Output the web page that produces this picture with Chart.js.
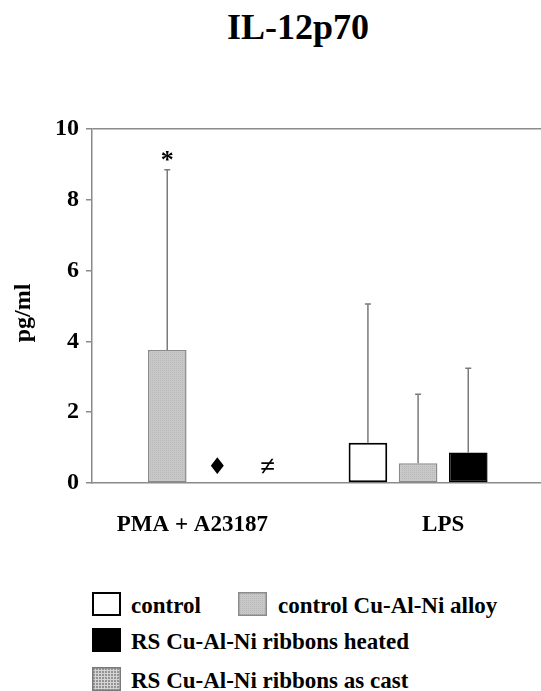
<!DOCTYPE html>
<html>
<head>
<meta charset="utf-8">
<script src="https://cdn.jsdelivr.net/npm/chart.js@4.4.1/dist/chart.umd.min.js"></script>
<style>
  html, body { margin: 0; padding: 0; background: #fff; }
  body { width: 541px; height: 691px; position: relative; overflow: hidden;
         font-family: "Liberation Serif", "Times New Roman", serif; font-weight: bold; color: #000; }
  #title { position: absolute; left: 0; top: 9px; width: 596px; text-align: center; font-size: 36px; line-height: 36px; }
  #wrap { position: absolute; left: 0; top: 0; width: 541px; height: 543px; }
  .lg { position: absolute; font-size: 23px; line-height: 24px; white-space: nowrap; }
  .lg canvas { position: absolute; left: 0; top: 0; }
  .lg span { position: absolute; top: 2px; }
</style>
</head>
<body>
<div id="title">IL-12p70</div>
<div id="wrap"><canvas id="chart"></canvas></div>
<div id="legend"></div>
<script>
var categories = ['PMA + A23187', 'LPS'];
var seriesNames = ['control', 'control Cu-Al-Ni alloy', 'RS Cu-Al-Ni ribbons heated', 'RS Cu-Al-Ni ribbons as cast'];

var control = [0, 1.14];
var alloy   = [3.76, 0.56];
var heated  = [0, 0.86];
var asCast  = [0, 0];

// standard deviations (upper error bar only)
var controlSD = [0, 3.92];
var alloySD   = [5.09, 1.95];
var heatedSD  = [0, 2.38];
var asCastSD  = [0, 0];

// significance marks: series index, category index, symbol, y value (null = above error bar)
var marks = [
    [1, 0, '*', null],
    [2, 0, '\u2666', 0.42],
    [3, 0, '\u2260', 0.42]
];

var yTicks = [0, 2, 4, 6, 8, 10];

var values = [control, alloy, heated, asCast];
var sds = [controlSD, alloySD, heatedSD, asCastSD];

function makeTile(size, draw) {
    var c = document.createElement('canvas');
    c.width = size; c.height = size;
    draw(c.getContext('2d'));
    return c;
}
var alloyTile = makeTile(2, function (g) {
    g.fillStyle = '#c8c8c8'; g.fillRect(0, 0, 2, 2);
    g.fillStyle = '#b8b8b8'; g.fillRect(0, 0, 1, 1);
});
var castTile = makeTile(3, function (g) {
    g.fillStyle = '#949494'; g.fillRect(0, 0, 3, 3);
    g.fillStyle = '#d4d4d4'; g.fillRect(0, 0, 3, 1); g.fillRect(0, 0, 1, 3);
});

function fillsFor(ctx) {
    return ['#ffffff', ctx.createPattern(alloyTile, 'repeat'), '#000000', ctx.createPattern(castTile, 'repeat')];
}
var borderColors = ['#000000', '#8a8a8a', '#000000', '#7a7a7a'];
var borderWidths = [2, 1.5, 1.5, 1.5];

var canvas = document.getElementById('chart');
var fills = fillsFor(canvas.getContext('2d'));

var serifBold = function (size) { return { family: 'Liberation Serif', size: size, weight: 'bold' }; };

var extras = {
    id: 'extras',
    afterDatasetsDraw: function (chart) {
        var ctx = chart.ctx, y = chart.scales.y;
        ctx.save();
        // error bars
        ctx.strokeStyle = '#7a7a7a';
        ctx.lineWidth = 1.5;
        sds.forEach(function (sd, i) {
            var meta = chart.getDatasetMeta(i);
            sd.forEach(function (e, j) {
                if (!e) return;
                var bar = meta.data[j];
                var top = y.getPixelForValue(values[i][j] + e);
                ctx.beginPath();
                ctx.moveTo(bar.x, bar.y); ctx.lineTo(bar.x, top);
                ctx.moveTo(bar.x - 3, top); ctx.lineTo(bar.x + 3, top);
                ctx.stroke();
            });
        });
        // marks
        ctx.fillStyle = '#000';
        ctx.textAlign = 'center';
        ctx.textBaseline = 'middle';
        marks.forEach(function (m) {
            var bar = chart.getDatasetMeta(m[0]).data[m[1]];
            var py;
            if (m[3] === null) {
                py = y.getPixelForValue(values[m[0]][m[1]] + sds[m[0]][m[1]]) - 8;
                ctx.font = 'bold 26px "Liberation Serif"';
            } else {
                py = y.getPixelForValue(m[3]);
                ctx.font = m[2] === '\u2666' ? '23px "DejaVu Sans"' : 'bold 27px "Liberation Serif"';
            }
            ctx.fillText(m[2], bar.x, py);
        });
        // y axis title
        ctx.translate(24, 313);
        ctx.rotate(-Math.PI / 2);
        ctx.font = 'bold 24px "Liberation Serif"';
        ctx.fillText('pg/ml', 0, 0);
        ctx.restore();
    }
};

new Chart(canvas, {
    type: 'bar',
    data: {
        datasets: values.map(function (v, i) {
            return {
                label: seriesNames[i],
                data: v.map(function (val, j) { return { x: j + 1, y: val }; }),
                backgroundColor: fills[i],
                borderColor: borderColors[i],
                borderWidth: borderWidths[i],
                borderSkipped: false,
                categoryPercentage: 0.8,
                barPercentage: 0.77
            };
        })
    },
    options: {
        responsive: true,
        maintainAspectRatio: false,
        animation: false,
        layout: { padding: { top: 129, left: 0, right: 0, bottom: 0 } },
        plugins: { legend: { display: false }, tooltip: { enabled: false } },
        scales: {
            x: {
                type: 'linear',
                min: 0.6,
                max: 2.39,
                offset: false,
                afterBuildTicks: function (s) {
                    s.ticks = categories.map(function (c, i) { return { value: i + 1 }; });
                },
                afterFit: function (s) { s.height = 60; },
                grid: { display: false, drawTicks: false, offset: false },
                border: { color: '#8a8a8a', width: 1.5 },
                ticks: {
                    font: serifBold(23), color: '#000', padding: 28,
                    maxRotation: 0, autoSkip: false,
                    callback: function (v) { return categories[v - 1]; }
                }
            },
            y: {
                min: 0,
                max: 10,
                afterBuildTicks: function (s) {
                    s.ticks = yTicks.map(function (v) { return { value: v }; });
                },
                afterFit: function (s) { s.width = 92; },
                grid: {
                    color: function (c) { return c.tick && c.tick.value === 10 ? '#8a8a8a' : 'rgba(0,0,0,0)'; },
                    tickColor: '#8a8a8a', tickLength: 6, lineWidth: 1.5
                },
                border: { color: '#8a8a8a', width: 1.5 },
                ticks: { font: serifBold(24), color: '#000', padding: 7 }
            }
        }
    },
    plugins: [extras]
});

// legend
var legendPos = [[92, 592], [238, 592], [92, 628], [92, 667]];
var legend = document.getElementById('legend');
seriesNames.forEach(function (name, i) {
    var item = document.createElement('div');
    item.className = 'lg';
    item.style.left = legendPos[i][0] + 'px';
    item.style.top = legendPos[i][1] + 'px';
    var sw = document.createElement('canvas');
    sw.width = 29; sw.height = 24;
    var g = sw.getContext('2d');
    g.fillStyle = fillsFor(g)[i];
    g.fillRect(0, 0, 29, 24);
    g.strokeStyle = borderColors[i];
    g.lineWidth = i === 0 ? 2 : 1.5;
    g.strokeRect(g.lineWidth / 2, g.lineWidth / 2, 29 - g.lineWidth, 24 - g.lineWidth);
    var txt = document.createElement('span');
    txt.textContent = name;
    txt.style.left = (i === 1 ? 40 : 39) + 'px';
    item.appendChild(sw);
    item.appendChild(txt);
    legend.appendChild(item);
});
</script>
</body>
</html>
